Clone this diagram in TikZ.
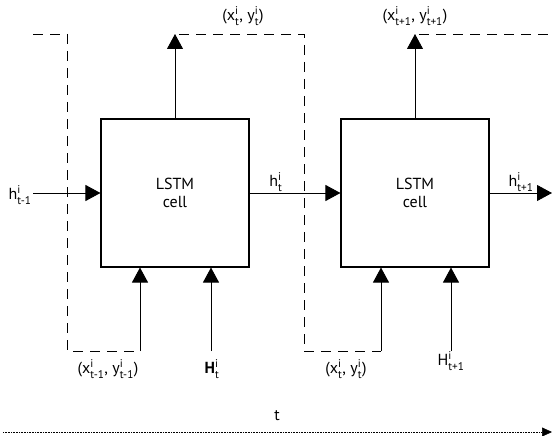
\documentclass[tikz,border=0pt]{standalone}
\usepackage{amsmath}
\usepackage{fontspec}
\setsansfont{PT Sans}
\usetikzlibrary{arrows.meta,positioning}

\begin{document}
\begin{tikzpicture}[
		x=1pt, y=-1pt,
		line join=miter,
		font=\sffamily\fontsize{16}{18}\selectfont,
		>={Triangle[length=15pt,width=16pt]},
		cell/.style={draw, line width=1.1pt, minimum width=148pt, minimum height=148pt, align=center, inner sep=0pt},
		flow/.style={->, line width=0.9pt},
		feed/.style={line width=0.9pt, dash pattern=on 10pt off 7pt},
		timeline/.style={-{Triangle[length=10pt,width=9pt]}, line width=0.6pt, dash pattern=on 0.8pt off 0.8pt},
		lab/.style={inner sep=1pt}
	]
	
	% Frame
	\useasboundingbox (0,0) rectangle (552,436);
	
	% Parameters
	\def\yTop{34}
	\def\yBot{351}
	
	% Cells
	\node[cell] (c1) at (175,193) {LSTM\\cell};
	\node[cell] (c2) at (415,193) {LSTM\\cell};
	
	% Free ends and corners
	\coordinate (hin) at (33,193);
	\coordinate (hout) at (552,193);
	\coordinate (o1) at (175,\yTop);
	\coordinate (o2) at (415,\yTop);
	\coordinate (in1) at (140,\yBot);
	\coordinate (in2) at (381,\yBot);
	\coordinate (H1) at (211,\yBot);
	\coordinate (H2) at (451,\yBot);
	
	% Hidden state
	\draw[flow] (hin) -- (c1.west);
	\draw[flow] (c1.east) -- (c2.west);
	\draw[flow] (c2.east) -- (hout);
	
	% Outputs
	\draw[flow] (c1.north) -- (o1);
	\draw[flow] (c2.north) -- (o2);
	
	% Inputs
	\draw[flow] (in1) -- (in1 |- c1.south);
	\draw[flow] (in2) -- (in2 |- c2.south);
	\draw[flow] (H1) -- (H1 |- c1.south);
	\draw[flow] (H2) -- (H2 |- c2.south);
	
	% Feedback of outputs
	\draw[feed] (33,\yTop) -- (67,\yTop) -- (67,\yBot) -- (in1);
	\draw[feed] (o1) ++(4,0) -- (304,\yTop) -- (304,\yBot) -- (in2);
	\draw[feed] (o2) ++(4,0) -- (552,\yTop);
	
	% Time axis
	\draw[timeline] (3,432) -- (552,432);
	
	% Labels
	\node[lab] (lhin) at (20,195) {h$^{\text{i}}_{\text{t-1}}$};
	\node[lab] (lht) at (276,182) {h$^{\text{i}}_{\text{t}}$};
	\node[lab] (lhout) at (521,182) {h$^{\text{i}}_{\text{t+1}}$};
	\node[lab] (lo1) at (243,16) {(x$^{\text{i}}_{\text{t}}$, y$^{\text{i}}_{\text{t}}$)};
	\node[lab] (lo2) at (415,16) {(x$^{\text{i}}_{\text{t+1}}$, y$^{\text{i}}_{\text{t+1}}$)};
	\node[lab] (lin1) at (108,369) {(x$^{\text{i}}_{\text{t-1}}$, y$^{\text{i}}_{\text{t-1}}$)};
	\node[lab] (lin2) at (346,369) {(x$^{\text{i}}_{\text{t}}$, y$^{\text{i}}_{\text{t}}$)};
	\node[lab] (lH1) at (212,369) {\textbf{H}$^{\text{i}}_{\text{t}}$};
	\node[lab] (lH2) at (451,361) {H$^{\text{i}}_{\text{t+1}}$};
	\node[lab] (lt) at (277,416) {t};
	
\end{tikzpicture}
\end{document}
